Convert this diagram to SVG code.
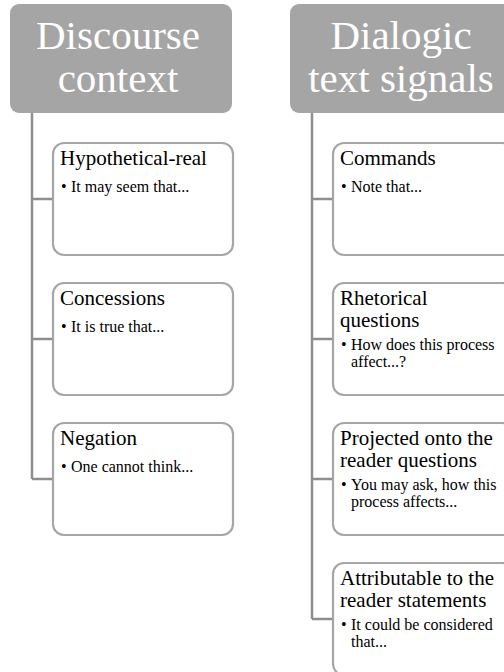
<svg xmlns="http://www.w3.org/2000/svg" width="504" height="672" viewBox="0 0 504 672">
<style>
.hdr{fill:#a5a5a5}
.ht{font-family:'Liberation Serif','Times New Roman',Tinos,'DejaVu Serif',serif;font-size:41px;fill:#ffffff;text-anchor:middle}
.box{fill:#ffffff;stroke:#a6a6a6;stroke-width:2.2}
.tt{font-family:'Liberation Serif','Times New Roman',Tinos,'DejaVu Serif',serif;font-size:21px;fill:#000000}
.bt{font-family:'Liberation Serif','Times New Roman',Tinos,'DejaVu Serif',serif;font-size:16px;fill:#000000}
.con{fill:none;stroke:#8e8e8e;stroke-width:2.5}
</style>
<rect width="504" height="672" fill="#ffffff"/>
<g id="connectors">
<path class="con" d="M32,113 V479 M32,199 H53 M32,339 H53 M32,479 H53"/>
<path class="con" d="M312,113 V619 M312,199 H333 M312,339 H333 M312,479 H333 M312,619 H333"/>
</g>
<g id="header-discourse">
<rect class="hdr" x="10" y="4" width="222" height="109" rx="9"/>
<text class="ht" x="118" y="49">Discourse</text>
<text class="ht" x="118" y="92">context</text>
</g>
<g id="header-dialogic">
<rect class="hdr" x="290" y="4" width="222" height="109" rx="9"/>
<text class="ht" x="401" y="49">Dialogic</text>
<text class="ht" x="401" y="92">text signals</text>
</g>
<g id="node-hypothetical">
<rect class="box" x="53" y="143" width="180" height="112" rx="11"/>
<text class="tt" x="60" y="165">Hypothetical-real</text>
<text class="bt" x="61" y="192">•</text><text class="bt" x="71" y="192">It may seem that...</text>
</g>
<g id="node-concessions">
<rect class="box" x="53" y="283" width="180" height="112" rx="11"/>
<text class="tt" x="60" y="305">Concessions</text>
<text class="bt" x="61" y="332">•</text><text class="bt" x="71" y="332">It is true that...</text>
</g>
<g id="node-negation">
<rect class="box" x="53" y="423" width="180" height="112" rx="11"/>
<text class="tt" x="60" y="445">Negation</text>
<text class="bt" x="61" y="472">•</text><text class="bt" x="71" y="472">One cannot think...</text>
</g>
<g id="node-commands">
<rect class="box" x="333" y="143" width="180" height="112" rx="11"/>
<text class="tt" x="340" y="165">Commands</text>
<text class="bt" x="341" y="192">•</text><text class="bt" x="351" y="192">Note that...</text>
</g>
<g id="node-rhetorical">
<rect class="box" x="333" y="283" width="180" height="112" rx="11"/>
<text class="tt" x="340" y="305">Rhetorical</text>
<text class="tt" x="340" y="327">questions</text>
<text class="bt" x="341" y="350">•</text><text class="bt" x="351" y="350">How does this process</text>
<text class="bt" x="351" y="367">affect...?</text>
</g>
<g id="node-projected">
<rect class="box" x="333" y="423" width="180" height="112" rx="11"/>
<text class="tt" x="340" y="445">Projected onto the</text>
<text class="tt" x="340" y="467">reader questions</text>
<text class="bt" x="341" y="490">•</text><text class="bt" x="351" y="490">You may ask, how this</text>
<text class="bt" x="351" y="507">process affects...</text>
</g>
<g id="node-attributable">
<rect class="box" x="333" y="563" width="180" height="112" rx="11"/>
<text class="tt" x="340" y="585">Attributable to the</text>
<text class="tt" x="340" y="607">reader statements</text>
<text class="bt" x="341" y="630">•</text><text class="bt" x="351" y="630">It could be considered</text>
<text class="bt" x="351" y="647">that...</text>
</g>
</svg>
